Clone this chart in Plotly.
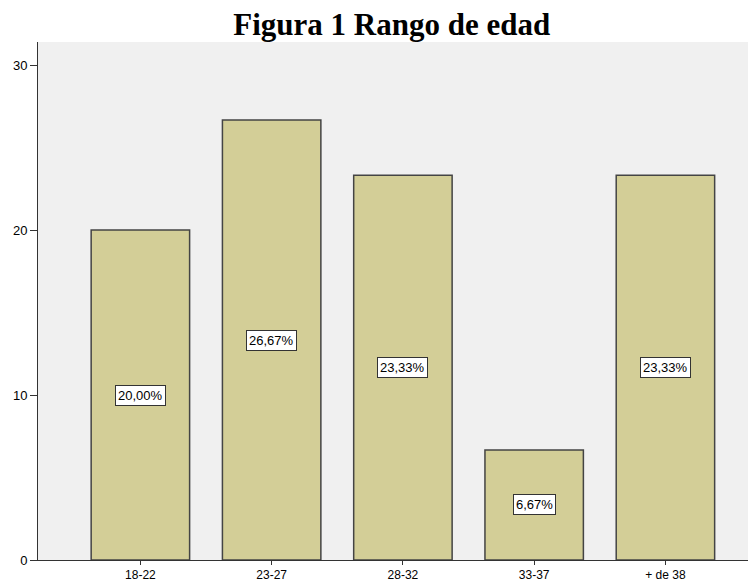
import plotly.graph_objects as go

categories = ["18-22", "23-27", "28-32", "33-37", "+ de 38"]
values = [20.00, 26.67, 23.33, 6.67, 23.33]
labels = ["20,00%", "26,67%", "23,33%", "6,67%", "23,33%"]
y_ticks = [0, 10, 20, 30]

fig = go.Figure()
fig.add_trace(go.Bar(
    x=list(range(len(categories))), y=values, width=0.75,
    marker=dict(color="#D3CE97", line=dict(color="#444444", width=1.5)),
    hoverinfo="skip",
))

for i, (v, t) in enumerate(zip(values, labels)):
    fig.add_annotation(
        x=i, y=v / 2, text=t, showarrow=False,
        font=dict(family="Liberation Sans, Arial", size=13, color="black"),
        bgcolor="white", bordercolor="#333333", borderwidth=1, borderpad=2,
    )

fig.update_layout(
    width=748, height=575,
    margin=dict(l=30, r=0, t=34, b=23, autoexpand=False),
    paper_bgcolor="white", plot_bgcolor="#F0F0F0",
    showlegend=False,
    title=dict(text="<b>Figura 1 Rango de edad</b>", x=0.513, xanchor="center",
               y=0.991, yanchor="top",
               font=dict(family="Liberation Serif, Times New Roman", size=31, color="black")),
)
fig.update_xaxes(
    range=[-0.78, 4.69], tickvals=list(range(len(categories))), ticktext=categories,
    showgrid=False, zeroline=False, showline=True, linecolor="#333333", linewidth=1,
    ticks="outside", ticklen=4, tickcolor="#333333",
    tickfont=dict(family="Liberation Sans, Arial", size=12, color="black"),
)
fig.update_yaxes(
    range=[0, 31.4], tickvals=y_ticks,
    showgrid=False, zeroline=False, showline=True, linecolor="#333333", linewidth=1,
    ticks="outside", ticklen=7, tickcolor="#333333",
    tickfont=dict(family="Liberation Sans, Arial", size=13, color="black"),
)

fig.write_html("out.html")
